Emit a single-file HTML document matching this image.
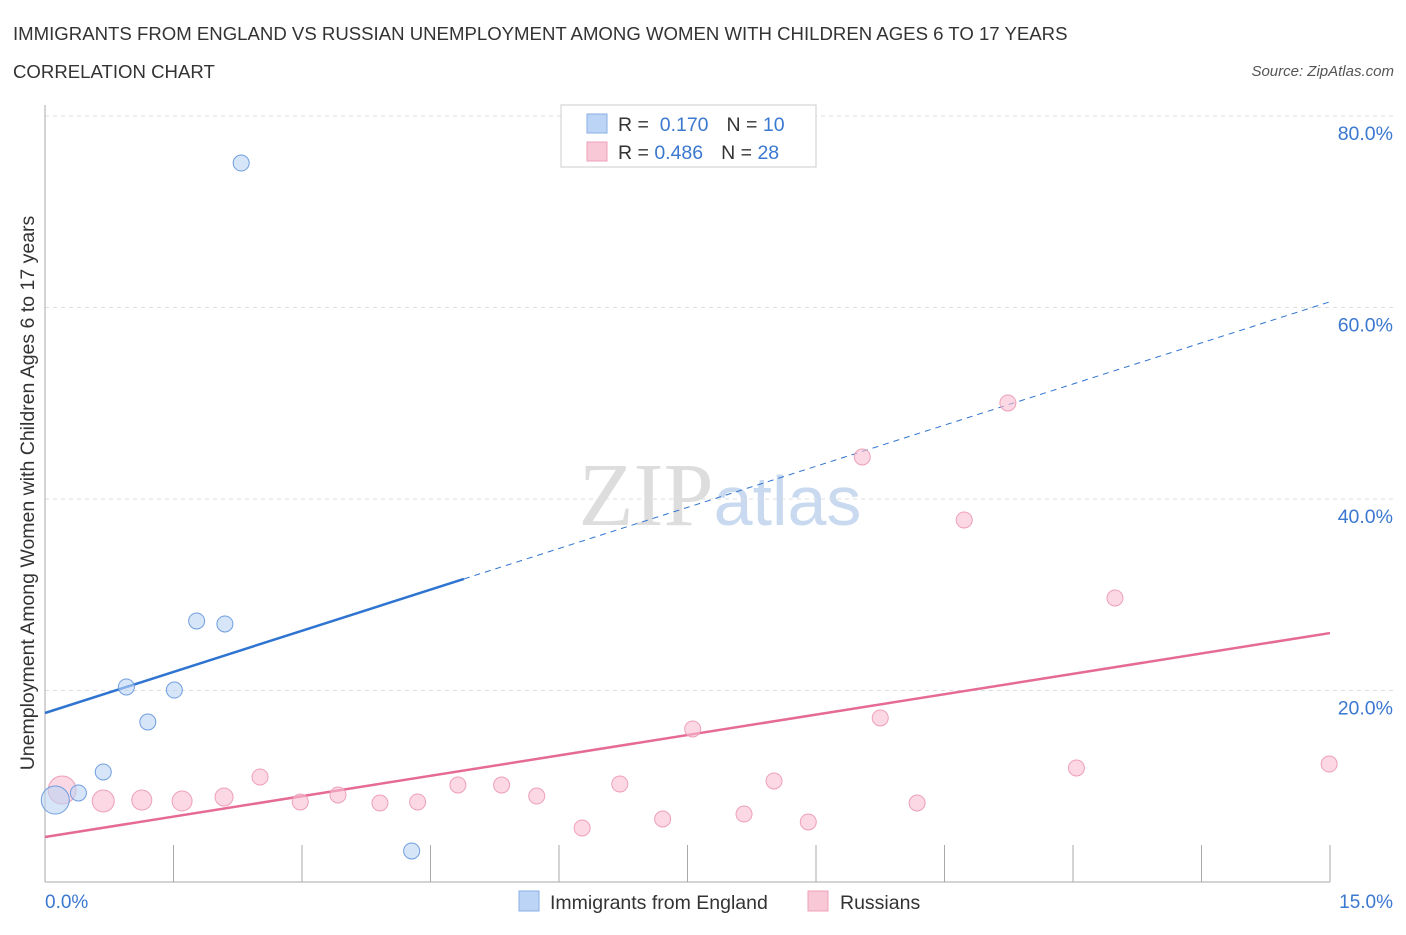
<!DOCTYPE html>
<html><head><meta charset="utf-8"><style>
body{margin:0;background:#fff;font-family:"Liberation Sans",sans-serif;}
</style></head><body>
<svg width="1406" height="930" xmlns="http://www.w3.org/2000/svg" font-family="Liberation Sans, sans-serif">
<text x="13" y="40" font-size="18.6" fill="#333">IMMIGRANTS FROM ENGLAND VS RUSSIAN UNEMPLOYMENT AMONG WOMEN WITH CHILDREN AGES 6 TO 17 YEARS</text>
<text x="13" y="78" font-size="18.6" fill="#333">CORRELATION CHART</text>
<text x="1394" y="76" font-size="15" fill="#555" text-anchor="end" font-style="italic">Source: ZipAtlas.com</text>
<text x="720" y="525" font-size="90" text-anchor="middle" fill="#ddd" font-family="Liberation Serif, serif">ZIP<tspan fill="#c9d9ef" font-family="Liberation Sans, sans-serif" font-size="70">atlas</tspan></text>
<g id="grid"></g>
<g id="axes"></g>
<g id="lines"></g>
<g id="pts"></g>
<text transform="translate(34,493) rotate(-90)" font-size="19.5" fill="#333" text-anchor="middle">Unemployment Among Women with Children Ages 6 to 17 years</text>
<text x="45" y="908" font-size="19" fill="#3b78d0">0.0%</text>
<text x="1393" y="908" font-size="19" fill="#3b78d0" text-anchor="end">15.0%</text>
<g>
<rect x="561" y="105" width="255" height="62" fill="#fff" stroke="#ccc"/>
<rect x="587" y="114" width="20" height="19" fill="#bcd4f5" stroke="#88aee6"/>
<text x="618" y="131" font-size="19.5" fill="#333">R = <tspan fill="#3b78d0">&#160;0.170</tspan><tspan dx="18">N = </tspan><tspan fill="#3b78d0">10</tspan></text>
<rect x="587" y="142" width="20" height="19" fill="#f8c8d6" stroke="#eea0b8"/>
<text x="618" y="159" font-size="19.5" fill="#333">R = <tspan fill="#3b78d0">0.486</tspan><tspan dx="18">N = </tspan><tspan fill="#3b78d0">28</tspan></text>
</g>
<g>
<rect x="519" y="891" width="20" height="20" fill="#bcd4f5" stroke="#88aee6"/>
<text x="550" y="909" font-size="19.5" fill="#333">Immigrants from England</text>
<rect x="808" y="891" width="20" height="20" fill="#f8c8d6" stroke="#eea0b8"/>
<text x="840" y="909" font-size="19.5" fill="#333">Russians</text>
</g>
</svg>
<script>
const yTicks=[20,40,60,80];
const blueX=[0.12,0.39,0.68,0.95,1.20,1.51,1.77,2.10,2.29,4.28];
const blueY=[8.56,9.30,11.49,20.37,16.71,20.05,27.26,26.95,75.09,3.24];
const blueR=[14,8,8,8,8,8,8,8,8,8];
const pinkX=[0.20,0.68,1.13,1.60,2.09,2.51,2.98,3.42,3.91,4.35,4.82,5.33,5.74,6.27,6.71,7.21,7.56,8.16,8.51,8.91,9.54,9.75,10.18,10.73,11.24,12.04,12.49,14.99];
const pinkY=[9.61,8.46,8.56,8.46,8.88,10.97,8.36,9.09,8.25,8.36,10.13,10.13,8.98,5.64,10.24,6.58,15.98,7.10,10.55,6.27,44.39,17.13,8.25,37.81,50.03,11.91,29.66,12.32];
const pinkR=[14,11,10,10,9,8,8,8,8,8,8,8,8,8,8,8,8,8,8,8,8,8,8,8,8,8,8,8];
const blueTrend=[17.65,60.6]; const blueSolidEnd=4.89;
const pinkTrend=[4.7,26.0];
const X=v=>45+v/15*1285, Y=v=>882-v*191.5/20;
const NS="http://www.w3.org/2000/svg";
function mk(p,t,a){const e=document.createElementNS(NS,t);for(const k in a)e.setAttribute(k,a[k]);document.getElementById(p).appendChild(e);return e;}
yTicks.forEach(t=>{const l=mk('grid','line',{x1:45,x2:1394,y1:Y(t),y2:Y(t),stroke:'#ddd','stroke-dasharray':'4,4'});


const tx=mk('grid','text',{x:1393,y:Y(t)+24,'font-size':19.5,fill:'#3b78d0','text-anchor':'end'});tx.textContent=t.toFixed(1)+'%';

});
const ax=mk('axes','line',{x1:45,x2:45,y1:105,y2:882,stroke:'#aaa'});


const bx=mk('axes','line',{x1:45,x2:1330,y1:882,y2:882,stroke:'#aaa'});


for(let i=1;i<=10;i++){const t=mk('axes','line',{x1:X(i*1.5),x2:X(i*1.5),y1:845,y2:882,stroke:'#aaa'});

}
const by=x=>blueTrend[0]+(blueTrend[1]-blueTrend[0])*x/15;
let l1=mk('lines','line',{x1:X(0),y1:Y(by(0)),x2:X(blueSolidEnd),y2:Y(by(blueSolidEnd)),stroke:'#2f74d0','stroke-width':2.5});


let l2=mk('lines','line',{x1:X(blueSolidEnd),y1:Y(by(blueSolidEnd)),x2:X(15),y2:Y(by(15)),stroke:'#2f74d0','stroke-width':1,'stroke-dasharray':'6,5'});


let l3=mk('lines','line',{x1:X(0),y1:Y(pinkTrend[0]),x2:X(15),y2:Y(pinkTrend[1]),stroke:'#e56b96','stroke-width':2.5});


pinkX.forEach((x,i)=>{const c=mk('pts','circle',{cx:X(x),cy:Y(pinkY[i]),r:pinkR[i],fill:'rgba(248,190,208,0.6)',stroke:'#eea0b8'});

});
blueX.forEach((x,i)=>{const c=mk('pts','circle',{cx:X(x),cy:Y(blueY[i]),r:blueR[i],fill:'rgba(188,212,245,0.6)',stroke:'#6f9ede'});

});
</script>
</body></html>
